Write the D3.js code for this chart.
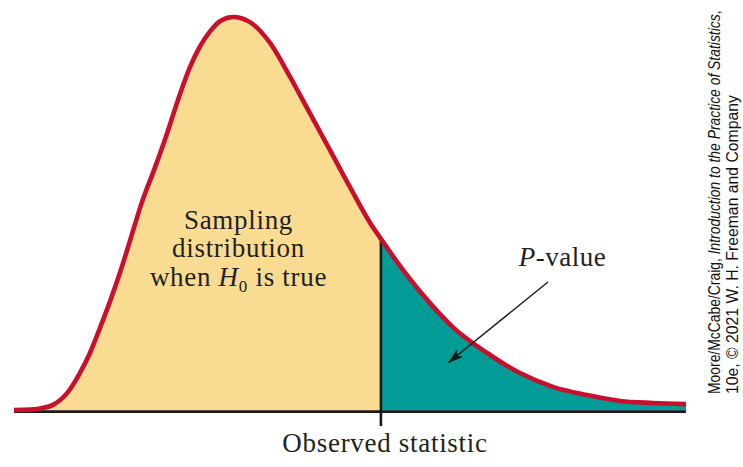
<!DOCTYPE html>
<html><head><meta charset="utf-8">
<script src="https://cdn.jsdelivr.net/npm/d3@7"></script>
<style>body{margin:0;background:#fff}svg{display:block}</style>
</head><body>
<script>
// ---- data ----
const xValues = [0, 2.4, 3.9, 5.8, 7.9, 9.8, 11.3, 12.8, 14.3, 15.8, 17.3, 19.0, 21.0, 22.8, 24.4, 26.2, 27.7, 29.2, 30.7, 32.6, 35.1, 38.1, 41.1, 44.0, 47.0, 50.0, 53.0, 54.5, 57.9, 61.9, 65.3, 70.4, 75.3, 80.2, 85.3, 90.2, 95.1, 100];
const densityValues = [0, 0.001, 0.004, 0.013, 0.043, 0.094, 0.145, 0.209, 0.277, 0.351, 0.433, 0.527, 0.618, 0.705, 0.789, 0.873, 0.926, 0.964, 0.990, 1.0, 0.987, 0.934, 0.847, 0.756, 0.662, 0.567, 0.476, 0.438, 0.356, 0.272, 0.211, 0.145, 0.094, 0.059, 0.038, 0.023, 0.018, 0.015];
const observedStatistic = 54.6;
const axisLabel = "Observed statistic";
const pValueLabel = "-value";
const creditLine1 = ["Moore/McCabe/Craig, ", "Introduction to the Practice of Statistics", ","];
const creditLine2 = "10e, \u00A9 2021 W. H. Freeman and Company";

const W = 743, H = 467;
const points = xValues.map((v, i) => ({x: v, y: densityValues[i]}));

const svg = d3.select("body").append("svg").attr("width", W).attr("height", H);
svg.append("rect").attr("width", W).attr("height", H).attr("fill", "#fff");

const x = d3.scaleLinear().domain([0, 100]).range([14, 686]);
const y = d3.scaleLinear().domain([0, 1]).range([410, 17]);

const area = d3.area().x(d => x(d.x)).y0(y(0) + 0.5).y1(d => y(d.y)).curve(d3.curveMonotoneX);
const line = d3.line().x(d => x(d.x)).y(d => y(d.y)).curve(d3.curveMonotoneX);

const defs = svg.append("defs");
defs.append("clipPath").attr("id", "leftClip").append("rect")
  .attr("x", 0).attr("y", 0).attr("width", x(observedStatistic)).attr("height", H);
defs.append("clipPath").attr("id", "rightClip").append("rect")
  .attr("x", x(observedStatistic)).attr("y", 0).attr("width", W - x(observedStatistic)).attr("height", H);
const vclip = defs.append("clipPath").attr("id", "vClip");
vclip.append("path").attr("d", area(points));
vclip.append("rect").attr("x", 0).attr("y", y(0)).attr("width", W).attr("height", H);

svg.append("path").attr("d", area(points)).attr("fill", "#F9DC91").attr("clip-path", "url(#leftClip)");
svg.append("path").attr("d", area(points)).attr("fill", "#009C95").attr("clip-path", "url(#rightClip)");

// baseline
svg.append("line").attr("x1", x(0)).attr("x2", x(100)).attr("y1", 411.7).attr("y2", 411.7)
  .attr("stroke", "#1a1a1a").attr("stroke-width", 2.8);

// observed statistic line
svg.append("line").attr("x1", x(observedStatistic)).attr("x2", x(observedStatistic))
  .attr("y1", 0).attr("y2", 426).attr("stroke", "#1a1a1a").attr("stroke-width", 2.6)
  .attr("clip-path", "url(#vClip)");

// density curve
svg.append("path").attr("d", line(points)).attr("fill", "none")
  .attr("stroke", "#C8102E").attr("stroke-width", 4.6).attr("stroke-linejoin", "round");

// text
const serif = "'Liberation Serif', 'Times New Roman', serif";
const tcol = "#231F20";
const lab = svg.append("text").attr("font-family", serif).attr("font-size", 27)
  .attr("letter-spacing", 0.7).attr("fill", tcol).attr("text-anchor", "middle");
lab.append("tspan").attr("x", 238.5).attr("y", 229).text("Sampling");
lab.append("tspan").attr("x", 238.5).attr("y", 257).text("distribution");
const l3 = lab.append("tspan").attr("x", 238.5).attr("y", 286);
l3.append("tspan").text("when ");
l3.append("tspan").attr("font-style", "italic").text("H");
l3.append("tspan").attr("font-size", 17).attr("dy", 6).text("0");
l3.append("tspan").attr("dy", -6).text(" is true");

const pv = svg.append("text").attr("font-family", serif).attr("font-size", 27)
  .attr("letter-spacing", 0.5).attr("fill", tcol).attr("text-anchor", "middle")
  .attr("x", 562.5).attr("y", 266);
pv.append("tspan").attr("font-style", "italic").text("P");
pv.append("tspan").text(pValueLabel);

svg.append("text").attr("font-family", serif).attr("font-size", 27)
  .attr("letter-spacing", 0.7).attr("fill", tcol).attr("text-anchor", "middle")
  .attr("x", 385).attr("y", 452).text(axisLabel);

// arrow
defs.append("marker").attr("id", "arrow").attr("viewBox", "0 0 16 10")
  .attr("refX", 15).attr("refY", 5).attr("markerWidth", 16).attr("markerHeight", 10)
  .attr("markerUnits", "userSpaceOnUse").attr("orient", "auto")
  .append("path").attr("d", "M0,0 L16,5 L0,10 L4,5 Z").attr("fill", "#1a1a1a");
svg.append("line").attr("x1", 548).attr("y1", 282).attr("x2", 448.5).attr("y2", 362.5)
  .attr("stroke", "#1a1a1a").attr("stroke-width", 1.4).attr("marker-end", "url(#arrow)");

// credit (condensed by a horizontal scale in the rotated frame)
const sans = "'Liberation Sans Narrow', 'Liberation Sans', Arial, sans-serif";
function creditText(yPos, target, build) {
  const g = svg.append("g");
  const t = g.append("text").attr("x", 0).attr("y", 0).attr("font-family", sans)
    .attr("font-size", 16).attr("fill", "#111");
  build(t);
  const natural = t.node().getComputedTextLength();
  const s = target / natural;
  g.attr("transform", `translate(${yPos},394) rotate(-90) scale(${s},1)`);
}
creditText(720, 384, t => {
  t.append("tspan").text(creditLine1[0]);
  t.append("tspan").attr("font-style", "italic").text(creditLine1[1]);
  t.append("tspan").text(creditLine1[2]);
});
creditText(738, 299, t => t.text(creditLine2));
</script>
</body></html>
